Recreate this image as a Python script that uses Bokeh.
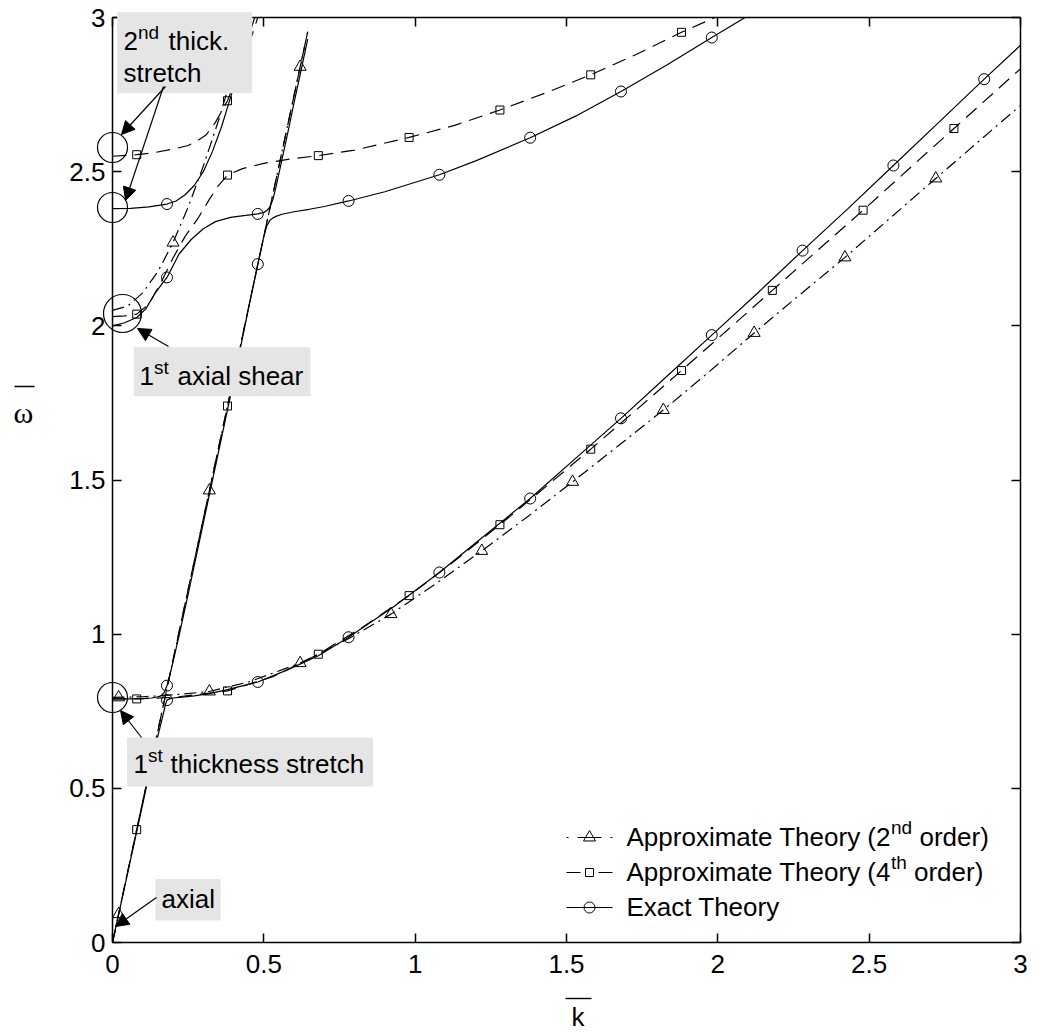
from bokeh.plotting import figure
from bokeh.models import (Range1d, FixedTicker, NumeralTickFormatter, LinearAxis,
                          CustomJSTickFormatter, Label, Arrow, NormalHead, BoxAnnotation)
from bokeh.embed import file_html
from bokeh.resources import INLINE

# ---------------------------------------------------------------------------
# Dispersion branches: normalized wavenumber k vs normalized frequency omega
# ---------------------------------------------------------------------------

# Exact theory (solid, circles)
exact_b1_k = [0, 0.05, 0.10, 0.13, 0.15, 0.16, 0.17, 0.175, 0.18, 0.19, 0.20, 0.23, 0.27, 0.32,
              0.38, 0.48, 0.58, 0.68, 0.78, 0.93, 1.08, 1.23, 1.38, 1.53, 1.68, 1.83, 1.98,
              2.13, 2.28, 2.43, 2.58, 2.73, 2.88, 3.00]
exact_b1_w = [0, 0.225, 0.45, 0.585, 0.67, 0.71, 0.75, 0.772, 0.786, 0.791, 0.793, 0.796, 0.800,
              0.807, 0.820, 0.845, 0.885, 0.930, 0.990, 1.090, 1.200, 1.320, 1.440, 1.570, 1.700,
              1.835, 1.970, 2.105, 2.244, 2.380, 2.520, 2.660, 2.800, 2.910]
exact_b1_mk = [0.18, 0.48, 0.78, 1.08, 1.38, 1.68, 1.98, 2.28, 2.58, 2.88]
exact_b1_mw = [0.786, 0.845, 0.99, 1.20, 1.44, 1.70, 1.97, 2.244, 2.52, 2.80]

exact_b2_k = [0, 0.05, 0.10, 0.13, 0.15, 0.16, 0.17, 0.18, 0.19, 0.20, 0.22, 0.25, 0.30, 0.35,
              0.40, 0.45, 0.48, 0.50, 0.51, 0.52, 0.53, 0.54, 0.56, 0.60, 0.65, 0.70, 0.78,
              0.90, 1.08, 1.20, 1.38, 1.53, 1.68, 1.83, 1.98, 2.09]
exact_b2_w = [0.790, 0.790, 0.791, 0.793, 0.797, 0.800, 0.810, 0.833, 0.870, 0.910, 0.995, 1.130,
              1.360, 1.590, 1.820, 2.060, 2.200, 2.290, 2.325, 2.342, 2.350, 2.355, 2.362, 2.370,
              2.378, 2.387, 2.405, 2.435, 2.490, 2.535, 2.610, 2.680, 2.760, 2.845, 2.935, 3.000]
exact_b2_mk = [0.18, 0.48, 0.78, 1.08, 1.38, 1.68, 1.98]
exact_b2_mw = [0.833, 2.20, 2.405, 2.49, 2.61, 2.76, 2.935]

exact_b3_k = [0, 0.04, 0.08, 0.11, 0.14, 0.18, 0.22, 0.26, 0.30, 0.34, 0.39, 0.44, 0.48, 0.50,
              0.51, 0.52, 0.53, 0.54, 0.56, 0.58, 0.60, 0.62, 0.645]
exact_b3_w = [2.000, 2.010, 2.027, 2.055, 2.105, 2.157, 2.233, 2.280, 2.315, 2.338, 2.352, 2.358,
              2.363, 2.368, 2.374, 2.385, 2.410, 2.450, 2.540, 2.630, 2.725, 2.815, 2.930]
exact_b3_mk = [0.18, 0.48]
exact_b3_mw = [2.157, 2.363]

exact_b4_k = [0, 0.06, 0.12, 0.18, 0.21, 0.24, 0.27, 0.30, 0.33, 0.36, 0.39, 0.42, 0.45, 0.47]
exact_b4_w = [2.380, 2.381, 2.386, 2.395, 2.405, 2.425, 2.455, 2.500, 2.565, 2.645, 2.740,
              2.840, 2.940, 3.000]
exact_b4_mk = [0.18]
exact_b4_mw = [2.395]

# Approximate theory, 4th order (dashed, squares)
a4_axial_k = [0, 0.645]
a4_axial_w = [0, 2.954]
a4_axial_mk = [0.08, 0.38]
a4_axial_mw = [0.366, 1.74]

a4_ts1_k = [0, 0.08, 0.20, 0.38, 0.53, 0.68, 0.83, 0.98, 1.13, 1.28, 1.43, 1.58, 1.73, 1.88,
            2.03, 2.18, 2.33, 2.48, 2.63, 2.78, 2.93, 3.00]
a4_ts1_w = [0.790, 0.790, 0.795, 0.816, 0.862, 0.935, 1.025, 1.125, 1.237, 1.355, 1.477, 1.600,
            1.727, 1.855, 1.985, 2.115, 2.245, 2.375, 2.508, 2.640, 2.772, 2.834]
a4_ts1_mk = [0.08, 0.38, 0.68, 0.98, 1.28, 1.58, 1.88, 2.18, 2.48, 2.78]
a4_ts1_mw = [0.790, 0.816, 0.935, 1.125, 1.355, 1.600, 1.855, 2.115, 2.375, 2.640]

a4_as1_k = [0, 0.04, 0.08, 0.12, 0.16, 0.20, 0.24, 0.28, 0.32, 0.35, 0.38, 0.43, 0.50, 0.58,
            0.68, 0.80, 0.98, 1.13, 1.28, 1.43, 1.58, 1.73, 1.88, 1.99]
a4_as1_w = [2.030, 2.032, 2.038, 2.070, 2.140, 2.220, 2.290, 2.345, 2.410, 2.455, 2.489, 2.510,
            2.527, 2.540, 2.552, 2.570, 2.611, 2.650, 2.700, 2.755, 2.814, 2.880, 2.952, 3.000]
a4_as1_mk = [0.08, 0.38, 0.68, 0.98, 1.28, 1.58, 1.88]
a4_as1_mw = [2.038, 2.489, 2.552, 2.611, 2.700, 2.814, 2.952]

a4_ts2_k = [0, 0.08, 0.14, 0.20, 0.25, 0.28, 0.31, 0.34, 0.38, 0.42, 0.46, 0.48]
a4_ts2_w = [2.550, 2.555, 2.562, 2.573, 2.585, 2.600, 2.620, 2.660, 2.730, 2.830, 2.940, 3.000]
a4_ts2_mk = [0.08, 0.38]
a4_ts2_mw = [2.555, 2.730]

# Approximate theory, 2nd order (dash-dot, triangles)
a2_axial_k = [0, 0.645]
a2_axial_w = [0, 2.954]
a2_axial_mk = [0.02, 0.32, 0.62]
a2_axial_mw = [0.092, 1.466, 2.840]

a2_ts1_k = [0, 0.10, 0.20, 0.32, 0.45, 0.62, 0.77, 0.92, 1.07, 1.22, 1.37, 1.52, 1.67, 1.82,
            1.97, 2.12, 2.27, 2.42, 2.57, 2.72, 2.87, 3.00]
a2_ts1_w = [0.795, 0.797, 0.803, 0.814, 0.845, 0.906, 0.980, 1.065, 1.165, 1.270, 1.380, 1.494,
            1.610, 1.727, 1.850, 1.977, 2.100, 2.222, 2.350, 2.478, 2.605, 2.715]
a2_ts1_mk = [0.02, 0.32, 0.62, 0.92, 1.22, 1.52, 1.82, 2.12, 2.42, 2.72]
a2_ts1_mw = [0.795, 0.814, 0.906, 1.065, 1.270, 1.494, 1.727, 1.977, 2.222, 2.478]

a2_as1_k = [0, 0.05, 0.10, 0.15, 0.20, 0.25, 0.30, 0.35, 0.40, 0.45]
a2_as1_w = [2.050, 2.064, 2.107, 2.176, 2.270, 2.385, 2.518, 2.665, 2.830, 3.000]
a2_as1_mk = [0.20]
a2_as1_mw = [2.270]

tick_values = [0, 0.5, 1, 1.5, 2, 2.5, 3]

# ---------------------------------------------------------------------------
# Geometry: the frame fills the whole canvas and the axes box (0..3 x 0..3)
# is drawn with fixed-location axes, so notes may reach past the box edges.
# ---------------------------------------------------------------------------
W, H = 1041, 1035
BOX_L, BOX_T, BOX_W, BOX_H = 112, 17, 908, 925
FONT = "Liberation Sans"
FS, SUP = 26, 19


def dx(px):
    """Canvas x (pixels) -> data k."""
    return (px - BOX_L) / BOX_W * 3.0


def dy(py):
    """Canvas y (pixels) -> data omega."""
    return (BOX_T + BOX_H - py) / BOX_H * 3.0


p = figure(width=W, height=H, min_border=0,
           x_range=Range1d(dx(0), dx(W)), y_range=Range1d(dy(H), dy(0)),
           output_backend="svg", toolbar_location=None)
p.xgrid.visible = False
p.ygrid.visible = False
p.outline_line_color = None
p.background_fill_color = "white"
p.border_fill_color = "white"


def text_at(txt, px, baseline_py, size, font=FONT):
    """Place text with its baseline at the given canvas position."""
    # the label anchor sits about 0.35 em above the baseline
    p.add_layout(Label(x=dx(px), y=dy(baseline_py - 0.35 * size), text=txt, text_font=font,
                       text_font_size=f"{size}px", text_color="black",
                       text_baseline="alphabetic", text_align="left"))


for ax in (p.xaxis[0], p.yaxis[0]):
    ax.fixed_location = 0
    ax.bounds = (0, 3)
    ax.ticker = FixedTicker(ticks=tick_values)
    ax.formatter = NumeralTickFormatter(format="0.[0]")
    ax.major_tick_in = 9
    ax.major_tick_out = 0
    ax.minor_tick_line_color = None
    ax.axis_line_width = 1.5
    ax.major_tick_line_width = 1.5
    ax.major_label_text_font = FONT
    ax.major_label_text_font_size = f"{FS}px"
    ax.major_label_text_color = "black"
p.yaxis[0].major_label_standoff = 7
p.xaxis[0].major_label_standoff = 12

for side in ("above", "right"):
    ax = LinearAxis(fixed_location=3, bounds=(0, 3), ticker=FixedTicker(ticks=tick_values),
                    formatter=CustomJSTickFormatter(code="return ''"),
                    major_tick_in=9, major_tick_out=0, minor_tick_line_color=None,
                    axis_line_width=1.5, major_tick_line_width=1.5,
                    major_label_standoff=0)
    p.add_layout(ax, side)

SOLID, DASH, DASHDOT = "solid", "14 8", "12 5 2 5"

series = [
    (a2_axial_k, a2_axial_w, a2_axial_mk, a2_axial_mw, DASHDOT, "triangle", 12),
    (a2_ts1_k, a2_ts1_w, a2_ts1_mk, a2_ts1_mw, DASHDOT, "triangle", 12),
    (a2_as1_k, a2_as1_w, a2_as1_mk, a2_as1_mw, DASHDOT, "triangle", 12),
    (a4_axial_k, a4_axial_w, a4_axial_mk, a4_axial_mw, DASH, "square", 8),
    (a4_ts1_k, a4_ts1_w, a4_ts1_mk, a4_ts1_mw, DASH, "square", 8),
    (a4_as1_k, a4_as1_w, a4_as1_mk, a4_as1_mw, DASH, "square", 8),
    (a4_ts2_k, a4_ts2_w, a4_ts2_mk, a4_ts2_mw, DASH, "square", 8),
    (exact_b1_k, exact_b1_w, exact_b1_mk, exact_b1_mw, SOLID, "circle", 11),
    (exact_b2_k, exact_b2_w, exact_b2_mk, exact_b2_mw, SOLID, "circle", 11),
    (exact_b3_k, exact_b3_w, exact_b3_mk, exact_b3_mw, SOLID, "circle", 11),
    (exact_b4_k, exact_b4_w, exact_b4_mk, exact_b4_mw, SOLID, "circle", 11),
]
for k, w, mk, mw, dash, marker, size in series:
    p.line(k, w, line_color="black", line_width=1.2, line_dash=dash)
    p.scatter(mk, mw, marker=marker, size=size, fill_color=None,
              line_color="black", line_width=1)

# ---------------------------------------------------------------------------
# Legend (lower right); sample strokes span 46 px with the marker centred
# ---------------------------------------------------------------------------
legend_rows = [
    (837, "2 9 24 9 2", "triangle", 12, [("Approximate Theory (2", 626, FS, 0),
                                         ("nd", 890.5, SUP, 12), ("order)", 919, FS, 0)]),
    (872, "14 18 14", "square", 8, [("Approximate Theory (4", 626, FS, 0),
                                    ("th", 890.5, SUP, 12), ("order)", 913.5, FS, 0)]),
    (907, SOLID, "circle", 11, [("Exact Theory", 626, FS, 0)]),
]
for row_y, dash, marker, size, pieces in legend_rows:
    p.line([dx(566), dx(612)], [dy(row_y), dy(row_y)], line_color="black",
           line_width=1.2, line_dash=dash)
    p.scatter([dx(589)], [dy(row_y)], marker=marker, size=size, fill_color=None,
              line_color="black", line_width=1)
    for txt, px, fs, raise_px in pieces:
        text_at(txt, px, row_y + 9 - raise_px, fs)

# ---------------------------------------------------------------------------
# Mode annotations: shaded captions, arrows and marker circles
# ---------------------------------------------------------------------------
caption_boxes = [(116.7, 11.7, 251.7, 92.7), (133.3, 346.7, 310.0, 395.7),
                 (126.5, 737.0, 372.5, 786.0), (155.0, 878.5, 220.0, 920.0)]
for l, t, r, b in caption_boxes:
    p.add_layout(BoxAnnotation(left=dx(l), right=dx(r), top=dy(t), bottom=dy(b),
                               fill_color="#e5e5e5", fill_alpha=1.0, line_color=None))

caption_texts = [
    ("2", 123, 50, FS), ("nd", 137.5, 38.5, SUP), ("thick.", 168, 50, FS),
    ("stretch", 123, 82, FS),
    ("1", 139, 385, FS), ("st", 153.5, 373.5, SUP), ("axial shear", 177, 385, FS),
    ("1", 133, 773, FS), ("st", 147.5, 761.5, SUP), ("thickness stretch", 170, 773, FS),
    ("axial", 161, 908, FS),
]
for txt, px, py, fs in caption_texts:
    text_at(txt, px, py, fs)

arrows = [((165, 86), (121, 134)), ((163, 86), (125, 200)), ((168, 346), (137, 328)),
          ((141, 737), (120, 710)), ((156, 897), (115, 926))]
for (x0, y0), (x1, y1) in arrows:
    p.add_layout(Arrow(x_start=dx(x0), y_start=dy(y0), x_end=dx(x1), y_end=dy(y1),
                       line_color="black", line_width=1.2,
                       end=NormalHead(size=13, fill_color="black", line_color="black",
                                      line_width=1)))

mode_circles = [(112, 147, 15), (112, 207, 15), (122, 313, 19), (112, 697, 15)]
for cx, cy, r in mode_circles:
    p.add_layout(BoxAnnotation(left=dx(cx - r), right=dx(cx + r), top=dy(cy - r),
                               bottom=dy(cy + r), border_radius=r, fill_alpha=0,
                               line_color="black", line_width=1.2, line_alpha=1))

# ---------------------------------------------------------------------------
# Axis titles (omega-bar and k-bar)
# ---------------------------------------------------------------------------
text_at("ω", 13, 422, 30, font="Liberation Serif")
p.add_layout(Arrow(x_start=dx(14), y_start=dy(386), x_end=dx(34), y_end=dy(386), end=None,
                   line_color="black", line_width=1.4))
text_at("k", 571, 1026, FS)
p.add_layout(Arrow(x_start=dx(565), y_start=dy(998), x_end=dx(591), y_end=dy(998), end=None,
                   line_color="black", line_width=1.4))

open("out.html", "w").write(file_html(p, INLINE))
